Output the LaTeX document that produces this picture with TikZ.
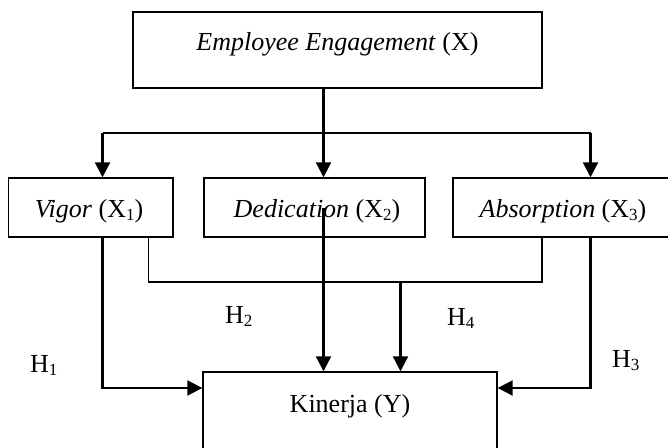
\documentclass[tikz,border=0pt]{standalone}
\usepackage{fontspec}
\setmainfont{Liberation Serif}
\usetikzlibrary{arrows.meta}
\newcommand\mysub[1]{\raisebox{-3.5pt}{\fontsize{17}{17}\selectfont #1}}
\begin{document}
\begin{tikzpicture}[x=1pt,y=-1pt,
  box/.style={draw,line width=1.4pt,inner sep=0pt,rectangle},
  lbl/.style={font=\fontsize{26}{31}\selectfont,inner sep=0pt,anchor=base},
  thinline/.style={line width=1.5pt},
  arr/.style={line width=2.1pt,-{Triangle[length=15pt,width=15pt]}},
  thickline/.style={line width=2.1pt}]
\useasboundingbox (0,0) rectangle (668,447);
\clip (0,0) rectangle (668,447);
% boxes
\node[box,minimum width=409pt,minimum height=76pt] (top) at (337.5,50) {};
\node[box,minimum width=164.5pt,minimum height=59pt] (vig) at (90.75,207.5) {};
\node[box,minimum width=221pt,minimum height=59pt] (ded) at (314.5,207.5) {};
\node[box,minimum width=220pt,minimum height=59pt] (abs) at (563,207.5) {};
\node[box,minimum width=294pt,minimum height=110pt] (kin) at (350,427) {};
% texts
\node[lbl] (ttop) at (337.5,50) {\textit{Employee Engagement} (X)};
\node[lbl] (tvig) at (89,217) {\textit{Vigor} (X\mysub{1})};
\node[lbl] (tded) at (317,217) {\textit{Dedication} (X\mysub{2})};
\node[lbl] (tabs) at (563,217) {\textit{Absorption} (X\mysub{3})};
\node[lbl] (tkin) at (350,412) {Kinerja (Y)};
\node[lbl,anchor=base west] (h1) at (30,372) {H\mysub{1}};
\node[lbl,anchor=base west] (h2) at (225,323) {H\mysub{2}};
\node[lbl,anchor=base west] (h4) at (447,325) {H\mysub{4}};
\node[lbl,anchor=base west] (h3) at (612,367) {H\mysub{3}};
% junction coordinates
\coordinate (j) at (323.5,133);
\coordinate (jl) at (102.5,133);
\coordinate (jr) at (590.5,133);
\coordinate (ds) at (323.5,208);
\coordinate (vl) at (148.5,0);
\coordinate (ar) at (542,0);
\coordinate (m) at (400.5,282);
\coordinate (ky) at (0,388);
% connectors
\draw[thickline] (top.south -| j) -- (j);
\draw[thinline] (jl) -- (jr);
\draw[arr] (jl) -- (vig.north -| jl);
\draw[arr] (j) -- (ded.north -| j);
\draw[arr] (jr) -- (abs.north -| jr);
\draw[arr] (vig.south -| jl) |- (kin.west |- ky);
\draw[arr] (abs.south -| jr) |- (kin.east |- ky);
\draw[arr] (ds) -- (kin.north -| ds);
\draw[thinline] (vig.south -| vl) |- (m) -| (abs.south -| ar);
\draw[arr] (m) -- (kin.north -| m);
\end{tikzpicture}
\end{document}
